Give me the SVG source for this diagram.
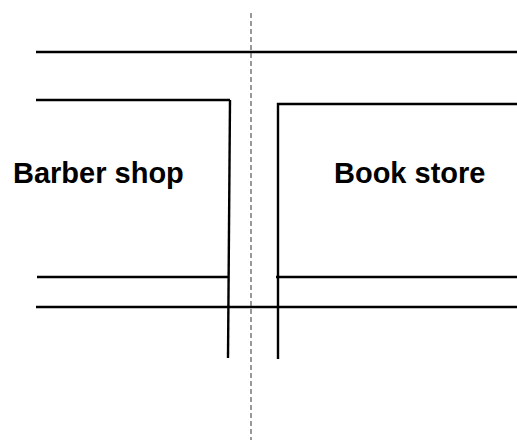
<svg xmlns="http://www.w3.org/2000/svg" width="517" height="440" viewBox="0 0 517 440">
<style>
.ln{stroke:#000;stroke-width:2.4;fill:none}
.dash{stroke:#555;stroke-width:1.2;stroke-dasharray:5 3;fill:none}
.lbl{font-family:"Liberation Sans",Arial,sans-serif;font-weight:bold;font-size:29px;fill:#000}
</style>
<rect width="517" height="440" fill="#fff"/>
<g id="connectors">
<line class="ln" x1="36" y1="52" x2="517" y2="52"/>
<polyline class="ln" points="36,100 230,100"/>
<line class="ln" x1="230" y1="100" x2="228" y2="358"/>
<polyline class="ln" points="517,104 278,104 278,359"/>
<line class="ln" x1="37" y1="277" x2="229" y2="277"/>
<line class="ln" x1="276" y1="277" x2="517" y2="277"/>
<line class="ln" x1="36" y1="307" x2="517" y2="307"/>
<line class="dash" x1="251" y1="13" x2="251" y2="440"/>
</g>
<g id="barber-shop">
<text class="lbl" x="13" y="182.5">Barber shop</text>
</g>
<g id="book-store">
<text class="lbl" x="334" y="182.5">Book store</text>
</g>
</svg>
